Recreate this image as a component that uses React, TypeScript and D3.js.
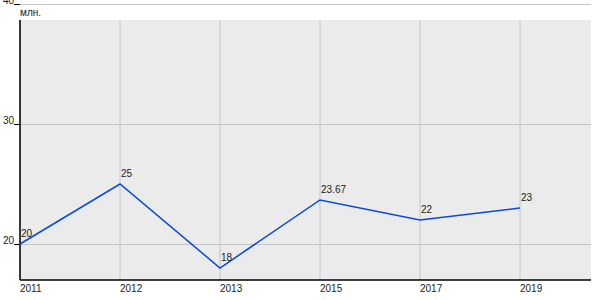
import React from "react";
import * as d3 from "d3";

const categories = ["2011", "2012", "2013", "2015", "2017", "2019"];
const values = [20, 25, 18, 23.67, 22, 23];
const valueLabels = ["20", "25", "18", "23.67", "22", "23"];
const yTicks = [20, 30, 40];
const unitLabel = "млн.";

export default function App() {
  const W = 600, H = 300;
  const left = 20, right = 591, top = 20, bottom = 280;
  const x = d3.scalePoint<string>().domain(categories).range([20, 520]);
  const y = d3.scaleLinear().domain([17, 40]).range([280, 4]);
  const line = d3
    .line<number>()
    .x((_, i) => x(categories[i]) as number)
    .y((d) => y(d));
  const font = "Arial, 'Liberation Sans', sans-serif";
  return (
    <svg
      width={W}
      height={H}
      style={{ position: "absolute", left: 0, top: 0, background: "#fff" }}
      fontFamily={font}
    >
      <rect x={left} y={top} width={right - left} height={bottom - top} fill="#ebebeb" />
      {categories.map((c) => (
        <line key={c} x1={x(c)} x2={x(c)} y1={top} y2={bottom} stroke="#c4c4c4" strokeWidth={1} />
      ))}
      {yTicks.map((t) => (
        <g key={t}>
          <line x1={left} x2={right} y1={Math.round(y(t)) + 0.5} y2={Math.round(y(t)) + 0.5} stroke="#c4c4c4" strokeWidth={1} />
          <line x1={14} x2={left} y1={Math.round(y(t)) + 0.5} y2={Math.round(y(t)) + 0.5} stroke="#000" strokeWidth={1} />
          <text x={14} y={y(t)} textAnchor="end" fontSize={10} fill="#222">
            {t}
          </text>
        </g>
      ))}
      <line x1={left} x2={left} y1={top} y2={bottom} stroke="#000" strokeWidth={1.5} />
      <line x1={left} x2={right} y1={bottom} y2={bottom} stroke="#000" strokeWidth={1.5} />
      <text x={left} y={16} fontSize={10} fill="#222">
        {unitLabel}
      </text>
      {categories.map((c) => (
        <text key={c} x={x(c)} y={292} fontSize={10} fill="#222">
          {c}
        </text>
      ))}
      <path d={line(values) || ""} fill="none" stroke="#0648e0" strokeWidth={1.5} />
      {values.map((v, i) => (
        <text key={i} x={(x(categories[i]) as number) + 1} y={y(v) - 7} fontSize={10} fill="#222">
          {valueLabels[i]}
        </text>
      ))}
    </svg>
  );
}
